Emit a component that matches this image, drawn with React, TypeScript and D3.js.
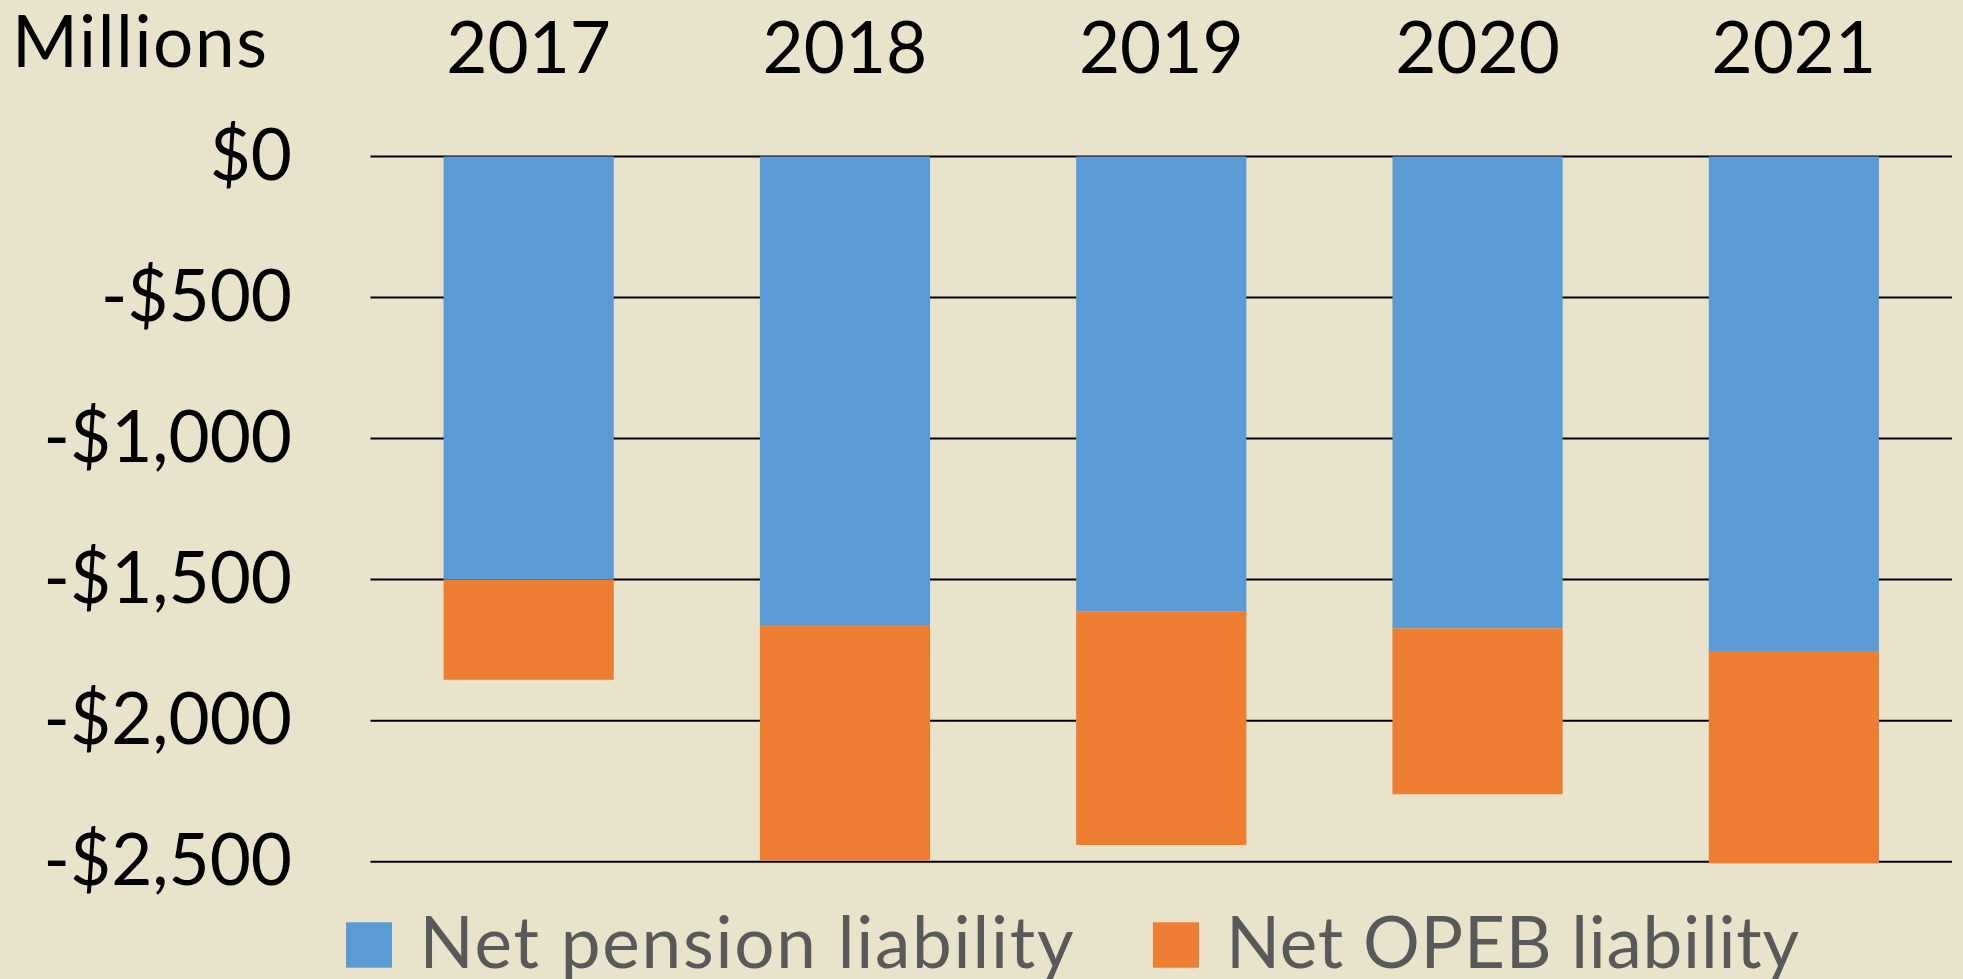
import React, { useEffect } from "react";
import * as d3 from "d3";

const years = ["2017", "2018", "2019", "2020", "2021"];
const pension = [-1500, -1661, -1612, -1673, -1753];
const opeb = [-355, -835, -829, -588, -753];
const yTicks = [0, -500, -1000, -1500, -2000, -2500];
const seriesNames = ["Net pension liability", "Net OPEB liability"];
const seriesColors = ["#5B9BD5", "#ED7D31"];

const W = 1963;
const H = 979;
const FONT = "Lato, 'Open Sans', sans-serif";

export default function App() {
  useEffect(() => {
    document.body.style.margin = "0";
  }, []);

  const x = d3.scaleBand<string>().domain(years).range([370.5, 1952]).paddingInner(0.462).paddingOuter(0.231);
  const y = d3.scaleLinear().domain([-2500, 0]).range([861.7, 156.5]);
  const fmt = (v: number) => (v < 0 ? "-$" : "$") + d3.format(",")(Math.abs(v));

  const stacks = years.map((yr, i) => ({
    yr,
    segs: [
      { y0: 0, y1: pension[i], c: seriesColors[0] },
      { y0: pension[i], y1: pension[i] + opeb[i], c: seriesColors[1] },
    ],
  }));

  return (
    <svg width={W} height={H} style={{ position: "absolute", left: 0, top: 0, display: "block" }}>
      <rect x={0} y={0} width={W} height={H} fill="#E9E3CB" />
      <text x={12} y={66.7} fontFamily={FONT} fontSize={71} fill="#000" textLength={255} lengthAdjust="spacing">Millions</text>
      {yTicks.map((t) => (
        <g key={t}>
          <line x1={370.5} x2={1952} y1={y(t)} y2={y(t)} stroke="#000" strokeWidth={2} />
          <text x={292} y={y(t) + 23} textAnchor="end" fontFamily={FONT} fontSize={71} fill="#000">
            {fmt(t)}
          </text>
        </g>
      ))}
      {years.map((yr) => (
        <text key={yr} x={(x(yr) as number) + x.bandwidth() / 2} y={73.3} textAnchor="middle" fontFamily={FONT} fontSize={71} fill="#000">
          {yr}
        </text>
      ))}
      {stacks.map((s) =>
        s.segs.map((g, j) => (
          <rect
            key={s.yr + j}
            x={x(s.yr) as number}
            width={x.bandwidth()}
            y={y(Math.max(g.y0, g.y1))}
            height={Math.abs(y(g.y1) - y(g.y0))}
            fill={g.c}
          />
        ))
      )}
      <rect x={346} y={922.3} width={46} height={45.4} fill={seriesColors[0]} />
      <text x={419.6} y={967.7} fontFamily={FONT} fontSize={71} fill="#595959" textLength={654} lengthAdjust="spacing">{seriesNames[0]}</text>
      <rect x={1153} y={922.3} width={46} height={45.4} fill={seriesColors[1]} />
      <text x={1226} y={967.7} fontFamily={FONT} fontSize={71} fill="#595959" textLength={573} lengthAdjust="spacing">{seriesNames[1]}</text>
    </svg>
  );
}
